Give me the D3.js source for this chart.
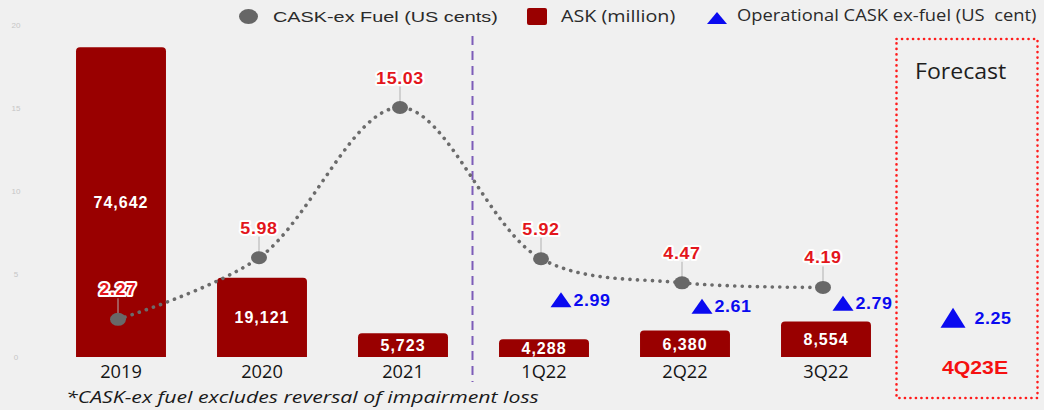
<!DOCTYPE html>
<meta charset="utf-8">
<head>
<script src="https://cdn.jsdelivr.net/npm/d3@7"></script>
<style>
  body { margin: 0; background: #f0f0f0; font-family: "Open Sans", Arial, sans-serif; }
  svg { display: block; }
</style>
</head>
<body>
<svg></svg>
<script>
// Data
var categories = ["2019", "2020", "2021", "1Q22", "2Q22", "3Q22"];
var forecastCategory = "4Q23E";
var askMillion = [74642, 19121, 5723, 4288, 6380, 8554];
var caskExFuel = [2.27, 5.98, 15.03, 5.92, 4.47, 4.19];
var opCategories = ["1Q22", "2Q22", "3Q22", "4Q23E"];
var opCaskExFuel = [2.99, 2.61, 2.79, 2.25];
var caskTicks = [0, 5, 10, 15, 20];

var width = 1044, height = 410;
var svg = d3.select('svg').attr('width', width).attr('height', height);

var allCats = categories.concat([forecastCategory]);
var x = d3.scaleBand().domain(allCats).range([50.5, 1037.5])
    .paddingInner(0.362).paddingOuter(0.181);
var yCask = d3.scaleLinear().domain([0, 20]).range([357, 25]);
var yAsk = d3.scaleLinear().domain([0, 80000]).range([357, 25]);
function cx(c) { return x(c) + x.bandwidth() / 2; }

// text stretched sideways like the source slide
function addText(parent, px, py, str, k) {
  return parent.append('text')
    .attr('transform', 'translate(' + px + ',' + py + ') scale(' + (k || 1) + ',1)')
    .text(str);
}

var red = '#e3161c', blue = '#0a0af0', barRed = '#990000';

// y axis (faint)
svg.append('g').attr('transform', 'translate(16,0)')
  .call(d3.axisLeft(yCask).tickValues(caskTicks).tickSize(0).tickPadding(0))
  .call(function (g) { g.select('.domain').remove(); })
  .selectAll('text')
  .attr('fill', '#c6c6c6').attr('text-anchor', 'middle')
  .style('font-size', '8px').style('font-family', 'Liberation Sans, Arial');

// bars with rounded tops
function topRounded(x0, y0, w, h, r) {
  r = Math.min(r, h / 2, w / 2);
  return 'M' + x0 + ',' + (y0 + h) + 'V' + (y0 + r) +
    'Q' + x0 + ',' + y0 + ' ' + (x0 + r) + ',' + y0 +
    'H' + (x0 + w - r) + 'Q' + (x0 + w) + ',' + y0 + ' ' + (x0 + w) + ',' + (y0 + r) +
    'V' + (y0 + h) + 'Z';
}
svg.selectAll('.bar').data(askMillion).enter().append('path')
  .attr('class', 'bar')
  .attr('fill', barRed)
  .attr('d', function (d, i) {
    return topRounded(x(categories[i]), yAsk(d), x.bandwidth(), yAsk(0) - yAsk(d), 4);
  });

var fmt = d3.format(',');
var barLabels = svg.append('g')
  .attr('fill', '#fff').attr('text-anchor', 'middle')
  .style('font-family', 'Liberation Sans, Arial').style('font-weight', 'bold')
  .style('font-size', '16px').style('letter-spacing', '1px');
askMillion.forEach(function (d, i) {
  addText(barLabels, cx(categories[i]), (yAsk(d) + yAsk(0)) / 2 + 6, fmt(d), 1);
});

// divider between years and quarters
var divX = (cx("2021") + cx("1Q22")) / 2 - 1;
svg.append('line')
  .attr('x1', divX).attr('x2', divX).attr('y1', 36).attr('y2', 382)
  .attr('stroke', '#7d5cb8').attr('stroke-width', 2).attr('stroke-dasharray', '9,6');

// forecast box
var fx = cx(forecastCategory);
svg.append('rect')
  .attr('x', fx - x.step() / 2).attr('y', 39)
  .attr('width', x.step()).attr('height', 359)
  .attr('fill', 'none').attr('stroke', '#ff1c1c').attr('stroke-width', 2.6)
  .attr('stroke-linecap', 'round').attr('stroke-dasharray', '0.1,5.4');
addText(svg, fx - 52, 79, 'Forecast', 1.1)
  .attr('fill', '#1e1e1e').style('font-size', '21px');

// CASK ex-fuel line
var line = d3.line()
  .x(function (d, i) { return cx(categories[i]) - 3; })
  .y(function (d) { return yCask(d); })
  .curve(d3.curveCatmullRom.alpha(0.5));
svg.append('path').datum(caskExFuel)
  .attr('d', line).attr('fill', 'none')
  .attr('stroke', '#6b6b6b').attr('stroke-width', 3.6)
  .attr('stroke-linecap', 'round').attr('stroke-dasharray', '0.1,7.4');

svg.selectAll('.lead').data(caskExFuel).enter().append('line')
  .attr('x1', function (d, i) { return cx(categories[i]) - 3; })
  .attr('x2', function (d, i) { return cx(categories[i]) - 3; })
  .attr('y1', function (d) { return yCask(d) - 5; })
  .attr('y2', function (d) { return yCask(d) - 21; })
  .attr('stroke', '#b0b0b0').attr('stroke-width', 1);

svg.selectAll('.dot').data(caskExFuel).enter().append('ellipse')
  .attr('cx', function (d, i) { return cx(categories[i]) - 3; })
  .attr('cy', function (d) { return yCask(d); })
  .attr('rx', 8).attr('ry', 6.5).attr('fill', '#686868');

var caskLabels = svg.append('g')
  .attr('fill', red).attr('text-anchor', 'middle')
  .attr('stroke', '#fff').attr('stroke-width', 4).attr('stroke-linejoin', 'round')
  .attr('paint-order', 'stroke')
  .style('font-family', 'Liberation Sans, Arial').style('font-weight', 'bold')
  .style('font-size', '17px').style('letter-spacing', '0.6px');
caskExFuel.forEach(function (d, i) {
  addText(caskLabels, cx(categories[i]) - 3, yCask(d) - 24, d.toFixed(2), 1.05);
});

// operational CASK ex-fuel triangles
var opLabels = svg.append('g')
  .style('font-family', 'Liberation Sans, Arial').style('font-weight', 'bold')
  .style('font-size', '17px').style('letter-spacing', '0.5px').attr('fill', blue);
opCaskExFuel.forEach(function (d, i) {
  var c = opCategories[i];
  var isF = c === forecastCategory;
  var tx = cx(c) + (isF ? -14 : 17);
  var w = isF ? 25 : 21, h = isF ? 20 : 15;
  var by = yCask(d) + (isF ? 8 : 0);
  svg.append('path')
    .attr('d', 'M' + (tx - w / 2) + ',' + by + 'L' + (tx + w / 2) + ',' + by + 'L' + tx + ',' + (by - h) + 'Z')
    .attr('fill', blue);
  addText(opLabels, tx + w / 2 + (isF ? 9 : 2), by - h / 2 + 6, d.toFixed(2), 1.05);
});

// category labels
var catLabels = svg.append('g').attr('text-anchor', 'middle')
  .attr('fill', '#151515').style('font-size', '17.5px');
categories.forEach(function (c) { addText(catLabels, cx(c), 378, c, 1.04); });
addText(svg, fx + 8, 374, forecastCategory, 1.18)
  .attr('text-anchor', 'middle').attr('fill', '#f51010')
  .style('font-family', 'Liberation Sans, Arial').style('font-weight', 'bold').style('font-size', '18px');

// footnote
addText(svg, 66, 403, '*CASK-ex fuel excludes reversal of impairment loss', 1.25)
  .attr('fill', '#1a1a1a').style('font-size', '17px').style('font-style', 'italic');

// legend
var lg = svg.append('g');
lg.append('ellipse').attr('cx', 248.5).attr('cy', 16.5).attr('rx', 9.5).attr('ry', 7.5).attr('fill', '#666');
addText(lg, 273, 22, 'CASK-ex Fuel (US cents)', 1.28)
  .attr('fill', '#2a2a2a').style('font-family', 'Liberation Sans, Arial').style('font-size', '15.5px');
lg.append('rect').attr('x', 527).attr('y', 8).attr('width', 20).attr('height', 17).attr('rx', 2).attr('fill', barRed);
addText(lg, 561, 22, 'ASK (million)', 1.16).attr('fill', '#2a2a2a').style('font-size', '17px');
lg.append('path').attr('d', 'M707,24L727,24L717,12Z').attr('fill', blue);
addText(lg, 737, 21, 'Operational CASK ex-fuel (US \u00a0cent)', 1.08)
  .attr('fill', '#2a2a2a').style('font-size', '17px');
</script>
</body>
